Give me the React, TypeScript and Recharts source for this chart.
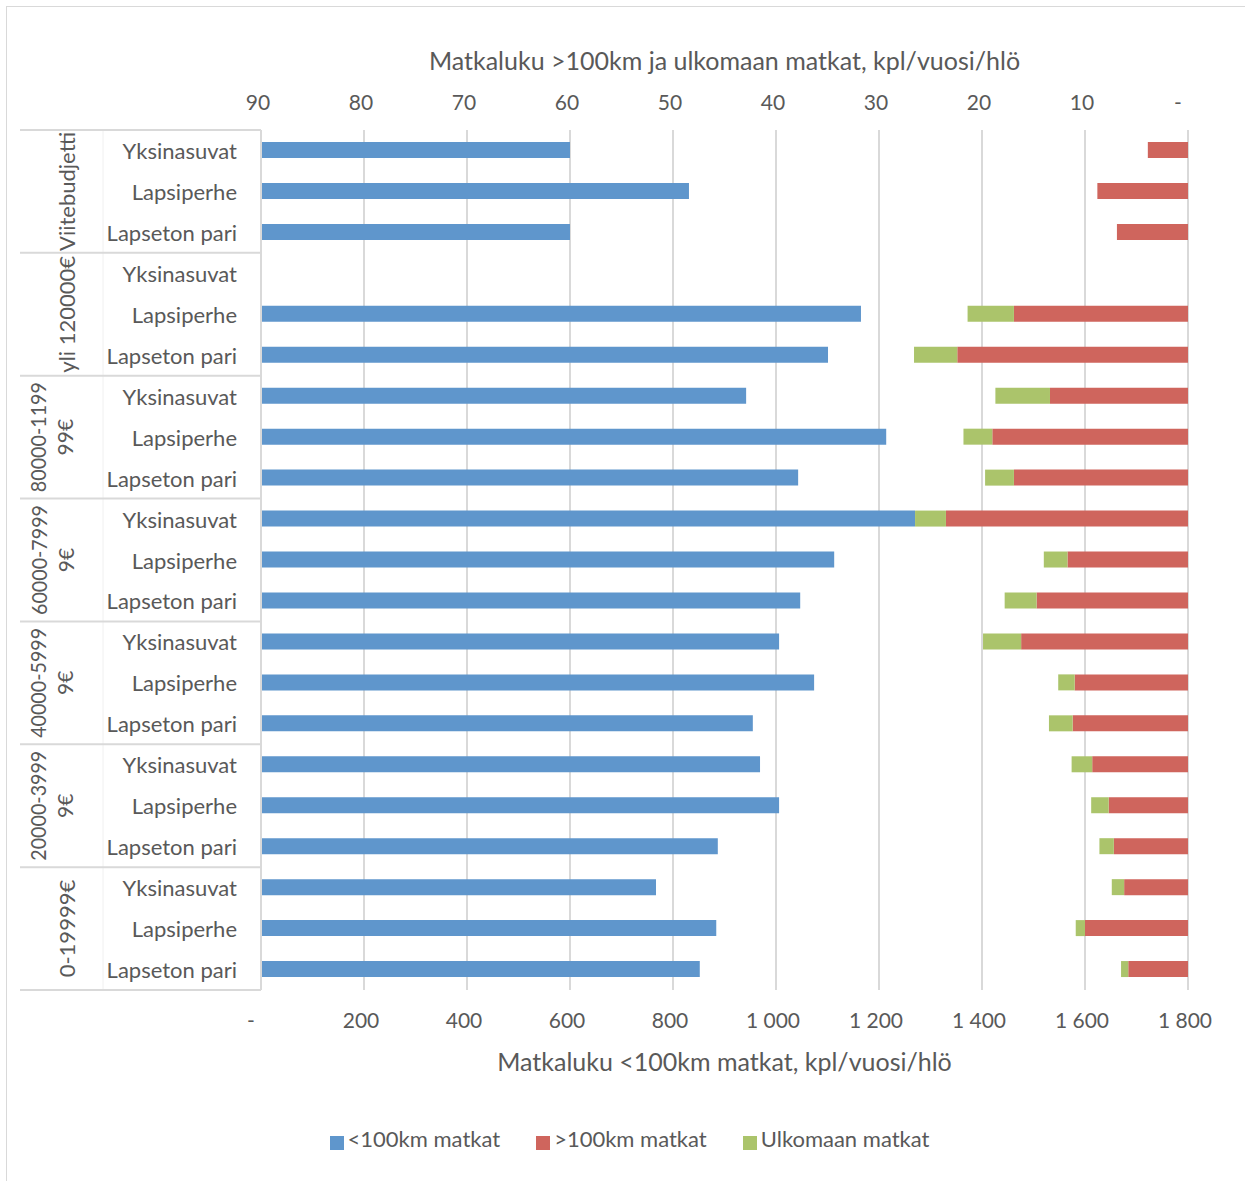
import React from 'react';
import { BarChart, Bar, XAxis, YAxis, CartesianGrid, Legend } from 'recharts';

const GROUPS = ['Viitebudjetti', 'yli 120000€', '80000-119999€', '60000-79999€', '40000-59999€', '20000-39999€', '0-19999€'];
const HOUSEHOLDS = ['Yksinasuvat', 'Lapsiperhe', 'Lapseton pari'];

// <100km trips, bottom axis
const SHORT_TRIPS = [600, 831, 600, 0, 1165, 1101, 942, 1214, 1043, 1270, 1113, 1047, 1006, 1074, 955, 969, 1006, 887, 767, 884, 852];
// >100km trips, top axis (reversed)
const LONG_TRIPS = [3.9, 8.8, 6.9, 0, 16.9, 22.4, 13.4, 19.0, 16.9, 23.5, 11.7, 14.7, 16.2, 11.0, 11.2, 9.3, 7.7, 7.2, 6.2, 10.0, 5.8];
// abroad trips, stacked on top of >100km
const ABROAD_TRIPS = [0, 0, 0, 0, 4.5, 4.2, 5.3, 2.8, 2.8, 3.0, 2.3, 3.1, 3.7, 1.6, 2.3, 2.0, 1.7, 1.4, 1.2, 0.9, 0.7];

const BOTTOM_TICKS = [0, 200, 400, 600, 800, 1000, 1200, 1400, 1600, 1800];
const TOP_TICKS = [0, 10, 20, 30, 40, 50, 60, 70, 80, 90];

const data = GROUPS.flatMap((group, gi) =>
  HOUSEHOLDS.map((household, hi) => {
    const i = gi * 3 + hi;
    return {
      key: `${group}|${household}`,
      group,
      household,
      short: SHORT_TRIPS[i] || null,
      long: LONG_TRIPS[i] || null,
      abroad: ABROAD_TRIPS[i] || null,
    };
  })
);

const W = 1245;
const H = 1181;
const LEGEND_H = 22;
const M = { top: 30, right: 57, bottom: 101 - LEGEND_H, left: 21 };
const Y_W = 240;
const PLOT_TOP = 130;
const PLOT_BOTTOM = 990;
const ROW_H = (PLOT_BOTTOM - PLOT_TOP) / data.length;
const PLOT_LEFT = M.left + Y_W;

const FONT = 'Lato, "Noto Sans", sans-serif';
const TXT = '#595959';
const LINE = '#d9d9d9';

const fmt = (v: number) => (v === 0 ? '-' : String(v).replace(/\B(?=(\d{3})+(?!\d))/g, '\u00a0'));

const NumTick = (props: any) => {
  const { x, y, payload, top } = props;
  const dx = payload.value === 0 ? -10 : -3;
  return (
    <text x={x + dx} y={y} textAnchor="middle" dominantBaseline={top ? 'auto' : 'hanging'} fill={TXT} fontSize={21} fontFamily={FONT}>
      {fmt(payload.value)}
    </text>
  );
};

// Excel wraps the long income ranges onto two lines
const wrap = (s: string) => (s.includes('-') && s.length > 10 ? [s.slice(0, 10), s.slice(10)] : [s]);

const CatTick = (props: any) => {
  const { x, y, index } = props;
  const row = data[index];
  if (!row) return null;
  const pos = index % 3;
  const lines = wrap(row.group);
  return (
    <g>
      {index === 0 && <line x1={103} x2={103} y1={PLOT_TOP} y2={PLOT_BOTTOM} stroke="#f0f0f0" strokeWidth={1} />}
      <text x={x} y={y} textAnchor="end" dominantBaseline="central" fill={TXT} fontSize={22} fontFamily={FONT}>
        {row.household}
      </text>
      {pos === 0 && <line x1={20} x2={PLOT_LEFT} y1={y - ROW_H / 2} y2={y - ROW_H / 2} stroke={LINE} strokeWidth={2} />}
      {index === data.length - 1 && <line x1={20} x2={PLOT_LEFT} y1={y + ROW_H / 2} y2={y + ROW_H / 2} stroke={LINE} strokeWidth={2} />}
      {pos === 1 &&
        lines.map((t, li) => {
          const lx = lines.length === 1 ? 67 : 38 + li * 27;
          const squeeze = lines.length > 1 && li === 0 ? { textLength: 110, lengthAdjust: 'spacingAndGlyphs' } : {};
          return (
            <text
              key={li}
              x={lx}
              y={y}
              transform={`rotate(-90, ${lx}, ${y})`}
              textAnchor="middle"
              dominantBaseline="central"
              fill={TXT}
              fontSize={lines.length > 1 ? 21 : 22}
              fontFamily={FONT}
              {...squeeze}
            >
              {t}
            </text>
          );
        })}
    </g>
  );
};

export default function App() {
  return (
    <div style={{ position: 'absolute', left: 0, top: 0, width: W, height: H, background: '#fff', fontFamily: FONT }}>
      <style>{`.recharts-legend-item { margin-right: 36px !important; }`}</style>
      <div style={{ position: 'absolute', left: 6, top: 6, width: W, height: H, border: `1px solid ${LINE}`, boxSizing: 'border-box' }} />
      <div style={{ position: 'absolute', left: 0, top: 0 }}>
        <BarChart width={W} height={H} data={data} layout="vertical" margin={M} barCategoryGap="30%">
          <CartesianGrid horizontal={false} xAxisId="bottom" stroke={LINE} strokeWidth={2} />
          <XAxis
            xAxisId="bottom"
            type="number"
            orientation="bottom"
            domain={[0, 1800]}
            ticks={BOTTOM_TICKS}
            height={90}
            tickSize={0}
            tickMargin={21}
            axisLine={false}
            tickLine={false}
            tick={<NumTick />}
            label={{ value: 'Matkaluku <100km matkat, kpl/vuosi/hlö', position: 'insideBottom', offset: 9, fill: TXT, fontSize: 25, fontFamily: FONT }}
          />
          <XAxis
            xAxisId="top"
            type="number"
            orientation="top"
            domain={[0, 90]}
            reversed
            ticks={TOP_TICKS}
            height={100}
            tickSize={0}
            tickMargin={20}
            axisLine={false}
            tickLine={false}
            tick={<NumTick top />}
            label={{ value: 'Matkaluku >100km ja ulkomaan matkat, kpl/vuosi/hlö', position: 'insideTop', offset: 22, fill: TXT, fontSize: 25, fontFamily: FONT }}
          />
          <YAxis
            yAxisId="cat"
            type="category"
            dataKey="key"
            width={Y_W}
            interval={0}
            tickSize={0}
            tickMargin={24}
            tickLine={false}
            axisLine={{ stroke: LINE, strokeWidth: 2 }}
            tick={<CatTick />}
          />
          <YAxis yAxisId="cat2" type="category" dataKey="key" hide />
          <Legend
            verticalAlign="bottom"
            iconType="square"
            iconSize={14}
            height={LEGEND_H}
            wrapperStyle={{ bottom: 34, left: 64 }}
            formatter={(v: string) => <span style={{ color: TXT, fontSize: 22, fontFamily: FONT }}>{v}</span>}
          />
          <Bar name="<100km matkat" dataKey="short" xAxisId="bottom" yAxisId="cat" fill="#5f96cc" barSize={16} isAnimationActive={false} />
          <Bar name=">100km matkat" dataKey="long" xAxisId="top" yAxisId="cat2" stackId="far" fill="#cf655d" barSize={16} isAnimationActive={false} />
          <Bar name="Ulkomaan matkat" dataKey="abroad" xAxisId="top" yAxisId="cat2" stackId="far" fill="#abc46b" barSize={16} isAnimationActive={false} />
        </BarChart>
      </div>
    </div>
  );
}
